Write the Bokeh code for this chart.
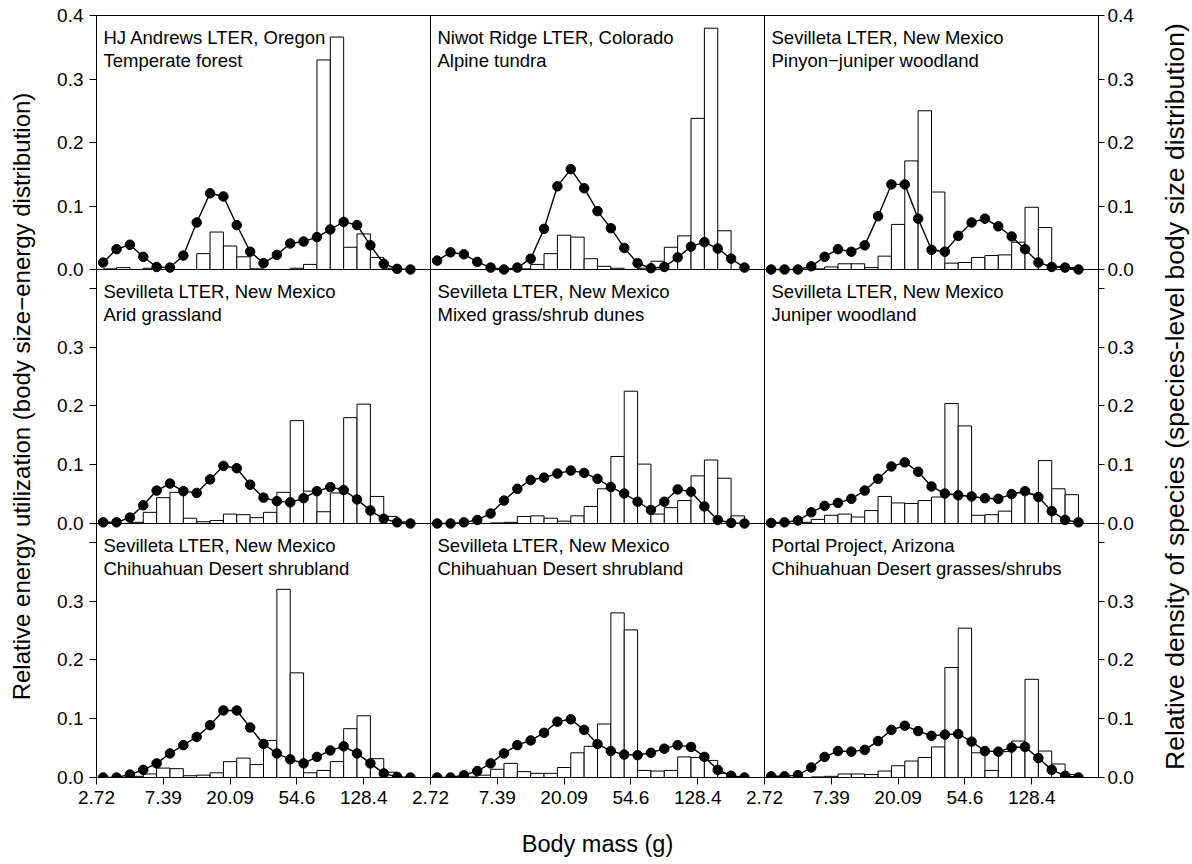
import math
from bokeh.plotting import figure
from bokeh.layouts import row
from bokeh.models import Range1d, LinearAxis, FixedTicker, Span, Label
from bokeh.embed import file_html
from bokeh.resources import INLINE

FONT = "Liberation Sans"

# ln(body mass) at which the energy curve is sampled; histogram bins lie between consecutive points
log_mass = [1.1, 1.3, 1.5, 1.7, 1.9, 2.1, 2.3, 2.5, 2.7, 2.9, 3.1, 3.3,
            3.5, 3.7, 3.9, 4.1, 4.3, 4.5, 4.7, 4.9, 5.1, 5.3, 5.5, 5.7]
panel_ln_span = (1, 6)
mass_tick_ln = [1, 2, 3, 4, 5]
mass_tick_labels = ["2.72", "7.39", "20.09", "54.6", "128.4"]
density_ticks = [0.0, 0.1, 0.2, 0.3, 0.4]
density_tick_labels = ["0.0", "0.1", "0.2", "0.3", "0.4"]

site_names = ["HJ Andrews LTER, Oregon", "Niwot Ridge LTER, Colorado", "Sevilleta LTER, New Mexico",
              "Sevilleta LTER, New Mexico", "Sevilleta LTER, New Mexico", "Sevilleta LTER, New Mexico",
              "Sevilleta LTER, New Mexico", "Sevilleta LTER, New Mexico", "Portal Project, Arizona"]
habitats = ["Temperate forest", "Alpine tundra", "Pinyon\u2212juniper woodland",
            "Arid grassland", "Mixed grass/shrub dunes", "Juniper woodland",
            "Chihuahuan Desert shrubland", "Chihuahuan Desert shrubland", "Chihuahuan Desert grasses/shrubs"]

energy_andrews = [0.011, 0.032, 0.039, 0.020, 0.004, 0.003, 0.022, 0.074, 0.120, 0.115, 0.070, 0.028,
                  0.010, 0.023, 0.041, 0.044, 0.051, 0.063, 0.075, 0.070, 0.038, 0.009, 0.001, 0.0]
species_andrews = [0.001, 0.003, 0.0, 0.002, 0.0, 0.0, 0.0, 0.025, 0.059, 0.037, 0.020, 0.001,
                   0.0, 0.0, 0.002, 0.008, 0.330, 0.366, 0.035, 0.056, 0.019, 0.002, 0.0]

energy_niwot = [0.014, 0.027, 0.024, 0.012, 0.003, 0.0, 0.003, 0.017, 0.064, 0.131, 0.158, 0.128,
                0.092, 0.065, 0.034, 0.010, 0.002, 0.004, 0.019, 0.036, 0.043, 0.033, 0.017, 0.003]
species_niwot = [0.0, 0.0, 0.0, 0.0, 0.0, 0.0, 0.001, 0.008, 0.025, 0.054, 0.051, 0.017,
                 0.005, 0.002, 0.0, 0.002, 0.013, 0.035, 0.053, 0.238, 0.380, 0.061, 0.0]

energy_pinyon = [0.0, 0.0, 0.0, 0.005, 0.020, 0.032, 0.028, 0.038, 0.084, 0.134, 0.134, 0.080,
                 0.031, 0.028, 0.053, 0.074, 0.080, 0.068, 0.052, 0.032, 0.011, 0.004, 0.003, 0.0]
species_pinyon = [0.0, 0.0, 0.0, 0.001, 0.004, 0.009, 0.009, 0.003, 0.021, 0.071, 0.171, 0.250,
                  0.122, 0.010, 0.011, 0.019, 0.022, 0.023, 0.043, 0.098, 0.066, 0.005, 0.003]

energy_arid = [0.002, 0.002, 0.010, 0.031, 0.056, 0.068, 0.055, 0.052, 0.075, 0.098, 0.094, 0.066,
               0.044, 0.038, 0.036, 0.043, 0.055, 0.062, 0.057, 0.041, 0.022, 0.008, 0.002, 0.0]
species_arid = [0.0, 0.0, 0.002, 0.019, 0.044, 0.053, 0.009, 0.003, 0.005, 0.016, 0.015, 0.010,
                0.019, 0.053, 0.175, 0.055, 0.020, 0.052, 0.180, 0.203, 0.046, 0.012, 0.003]

energy_dunes = [0.0, 0.0, 0.002, 0.006, 0.017, 0.039, 0.059, 0.074, 0.078, 0.085, 0.090, 0.086,
                0.076, 0.062, 0.051, 0.037, 0.023, 0.037, 0.058, 0.054, 0.029, 0.006, 0.001, 0.0]
species_dunes = [0.0, 0.0, 0.0, 0.0, 0.001, 0.002, 0.012, 0.013, 0.009, 0.004, 0.013, 0.029,
                 0.059, 0.114, 0.225, 0.101, 0.016, 0.027, 0.039, 0.081, 0.108, 0.077, 0.013]

energy_juniper = [0.001, 0.002, 0.005, 0.019, 0.030, 0.035, 0.042, 0.056, 0.076, 0.097, 0.104, 0.088,
                  0.063, 0.051, 0.048, 0.046, 0.043, 0.042, 0.050, 0.055, 0.045, 0.021, 0.006, 0.002]
species_juniper = [0.0, 0.0, 0.002, 0.007, 0.014, 0.016, 0.011, 0.022, 0.046, 0.035, 0.034, 0.039,
                   0.045, 0.204, 0.166, 0.014, 0.015, 0.021, 0.052, 0.050, 0.107, 0.059, 0.049]

energy_shrub1 = [0.0, 0.0, 0.005, 0.013, 0.024, 0.041, 0.055, 0.069, 0.089, 0.114, 0.114, 0.085,
                 0.057, 0.041, 0.031, 0.024, 0.035, 0.046, 0.053, 0.041, 0.024, 0.007, 0.001, 0.0]
species_shrub1 = [0.0, 0.0, 0.002, 0.006, 0.016, 0.015, 0.003, 0.004, 0.008, 0.027, 0.033, 0.022,
                  0.063, 0.320, 0.178, 0.008, 0.012, 0.027, 0.083, 0.105, 0.032, 0.009, 0.0]

energy_shrub2 = [0.0, 0.0, 0.004, 0.011, 0.024, 0.041, 0.055, 0.063, 0.076, 0.095, 0.099, 0.081,
                 0.057, 0.045, 0.039, 0.038, 0.042, 0.049, 0.055, 0.052, 0.035, 0.013, 0.003, 0.0]
species_shrub2 = [0.0, 0.0, 0.001, 0.004, 0.014, 0.024, 0.010, 0.007, 0.007, 0.017, 0.042, 0.053,
                  0.091, 0.280, 0.251, 0.012, 0.011, 0.012, 0.035, 0.034, 0.029, 0.007, 0.0]

energy_portal = [0.002, 0.002, 0.004, 0.017, 0.035, 0.045, 0.044, 0.047, 0.062, 0.081, 0.088, 0.079,
                 0.071, 0.073, 0.074, 0.061, 0.045, 0.044, 0.051, 0.052, 0.033, 0.013, 0.003, 0.0]
species_portal = [0.0, 0.0, 0.0, 0.001, 0.002, 0.006, 0.006, 0.005, 0.011, 0.020, 0.028, 0.034,
                  0.052, 0.187, 0.254, 0.042, 0.012, 0.044, 0.062, 0.167, 0.045, 0.023, 0.005]

energy_series = [energy_andrews, energy_niwot, energy_pinyon, energy_arid, energy_dunes,
                 energy_juniper, energy_shrub1, energy_shrub2, energy_portal]
species_series = [species_andrews, species_niwot, species_pinyon, species_arid, species_dunes,
                  species_juniper, species_shrub1, species_shrub2, species_portal]

# y extent of each row (bottom, middle, top)
row_top = [0.432, 0.432, 0.4]

NCOL, NROW = 3, 3
span = panel_ln_span[1] - panel_ln_span[0]

MAIN_W, TITLE_W, H = 1136, 54, 862

p = figure(width=MAIN_W, height=H,
           x_range=Range1d(panel_ln_span[0], panel_ln_span[0] + NCOL * span),
           y_range=Range1d(0, NROW),
           output_backend="svg", toolbar_location=None,
           min_border_left=96, min_border_right=38, min_border_top=15, min_border_bottom=85,
           background_fill_color="white", border_fill_color="white")
p.xgrid.visible = False
p.ygrid.visible = False
p.outline_line_color = "black"
p.outline_line_width = 1

for j in range(NCOL):
    p.extra_x_ranges[f"col{j}"] = Range1d(panel_ln_span[0] - span * j,
                                          panel_ln_span[0] - span * j + NCOL * span)
for r in range(NROW):
    T = row_top[r]
    p.extra_y_ranges[f"row{r}"] = Range1d(-r * T, (NROW - r) * T)

# x axis ticks (repeated per column)
xticks, xlabels = [], {}
for j in range(NCOL):
    for ln, lab in zip(mass_tick_ln, mass_tick_labels):
        pos = ln + span * j
        xticks.append(pos)
        xlabels[pos] = lab

# y axis ticks (repeated per row)
yticks, ylabels = [], {}
for r in range(NROW):
    T = row_top[r]
    for v, lab in zip(density_ticks, density_tick_labels):
        pos = round(r + v / T, 9)
        yticks.append(pos)
        ylabels[pos] = lab if (r == NROW - 1 or v < 0.35) else ""


def style_axis(ax):
    ax.major_label_text_font = FONT
    ax.major_label_text_font_size = "19px"
    ax.major_label_text_color = "black"
    ax.axis_label_text_font = FONT
    ax.axis_label_text_font_size = "24px"
    ax.axis_label_text_font_style = "normal"
    ax.axis_label_text_color = "black"
    ax.major_tick_in = 0
    ax.major_tick_out = 7
    ax.major_tick_line_color = "black"
    ax.minor_tick_line_color = None
    ax.axis_line_color = "black"


xa = p.xaxis[0]
xa.ticker = FixedTicker(ticks=xticks)
xa.major_label_overrides = xlabels
xa.axis_label = "Body mass (g)"
style_axis(xa)
xa.axis_label_text_font_size = "23.5px"
xa.major_label_standoff = 6
xa.axis_label_standoff = 24

ya = p.yaxis[0]
ya.ticker = FixedTicker(ticks=yticks)
ya.major_label_overrides = ylabels
ya.axis_label = "Relative energy utilization (body size\u2212energy distribution)"
style_axis(ya)
ya.major_label_standoff = 6
ya.axis_label_standoff = 19

# right tick axis
yr_axis = LinearAxis(ticker=FixedTicker(ticks=yticks), major_label_overrides=ylabels)
style_axis(yr_axis)
yr_axis.major_tick_out = 6
yr_axis.major_label_standoff = 3
p.add_layout(yr_axis, "right")

# panel separators
for j in range(1, NCOL):
    p.add_layout(Span(location=panel_ln_span[0] + span * j, dimension="height",
                      line_color="black", line_width=1))
for r in range(1, NROW):
    p.add_layout(Span(location=r, dimension="width", line_color="black", line_width=1))

for i in range(NCOL * NROW):
    rt, j = divmod(i, NCOL)
    r = NROW - 1 - rt
    xr, yr = f"col{j}", f"row{r}"
    energy = energy_series[i]
    species = species_series[i]
    p.quad(left=log_mass[:-1], right=log_mass[1:], bottom=0, top=species,
           fill_color="white", line_color="black", line_width=1,
           x_range_name=xr, y_range_name=yr)
    p.line(log_mass, energy, line_color="black", line_width=1.4,
           x_range_name=xr, y_range_name=yr)
    p.scatter(log_mass, energy, size=9.5, fill_color="black", line_color="black",
              x_range_name=xr, y_range_name=yr)
    for k, txt in enumerate([site_names[i], habitats[i]]):
        p.add_layout(Label(x=panel_ln_span[0], y=row_top[r], x_range_name=xr, y_range_name=yr,
                           x_offset=7, y_offset=-22 - 23 * k, text=txt,
                           text_font=FONT, text_font_size="18.5px", text_color="black",
                           text_baseline="alphabetic", text_align="left"))

# right-hand title in its own narrow strip, reading bottom to top
t = figure(width=TITLE_W, height=H, x_range=Range1d(0, TITLE_W), y_range=Range1d(0, H),
           output_backend="svg", toolbar_location=None,
           min_border_left=0, min_border_right=0, min_border_top=0, min_border_bottom=0,
           background_fill_color="white", border_fill_color="white")
t.axis.visible = False
t.xgrid.visible = False
t.ygrid.visible = False
t.outline_line_color = None
t.add_layout(Label(x=38, y=H - 431,
                   text="Relative density of species (species-level body size distribution)",
                   angle=math.pi / 2, text_align="center", text_baseline="middle",
                   text_font=FONT, text_font_size="26.5px", text_color="black"))

layout = row(p, t)
open("out.html", "w").write(file_html(layout, INLINE))
